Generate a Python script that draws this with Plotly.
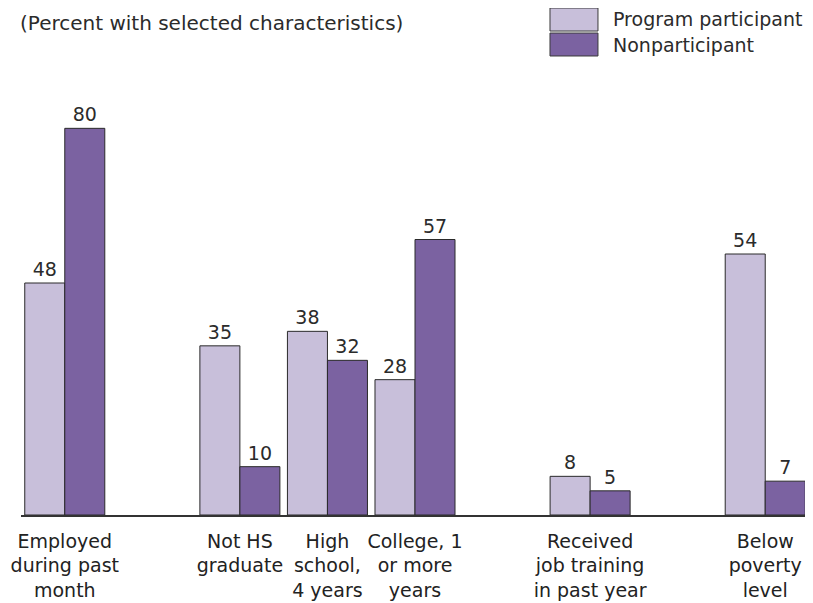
import plotly.graph_objects as go

categories = [
    "Employed<br>during past<br>month",
    " ",
    "Not HS<br>graduate",
    "High<br>school,<br>4 years",
    "College, 1<br>or more<br>years",
    "  ",
    "Received<br>job training<br>in past year",
    "   ",
    "Below<br>poverty<br>level",
]
participant = [48, None, 35, 38, 28, None, 8, None, 54]
nonparticipant = [80, None, 10, 32, 57, None, 5, None, 7]
series_names = ["Program participant", "Nonparticipant"]
colors = ["#c8bfda", "#7b62a1"]

FONT = "DejaVu Sans"
TXT = "#2b2b2b"
fig = go.Figure()
for name, vals, col in zip(series_names, [participant, nonparticipant], colors):
    fig.add_trace(go.Bar(
        x=categories, y=vals, name=name,
        marker=dict(color=col, line=dict(color="#2a2a2a", width=1)),
        text=[("" if v is None else str(v)) for v in vals],
        textposition="outside", cliponaxis=False,
        textfont=dict(family=FONT, size=19, color=TXT),
        showlegend=False,
    ))

# Manual legend (large swatches like the reference), built from series names/colours
legend_box_y = [(1.1126, 1.1655), (1.0552, 1.1080)]
legend_text_y = [1.1391, 1.0805]
for name, col, (y0, y1), ty in zip(series_names, colors, legend_box_y, legend_text_y):
    fig.add_shape(type="rect", xref="paper", yref="paper",
                  x0=0.6713, x1=0.7322, y0=y0, y1=y1,
                  fillcolor=col, line=dict(color="#3a3a3a", width=1))
    fig.add_annotation(xref="paper", yref="paper", x=0.749, y=ty,
                       xanchor="left", yanchor="middle", showarrow=False,
                       text=name, font=dict(family=FONT, size=19, color=TXT))

# page body has an 8px margin, so the figure is drawn 8px smaller
fig.update_layout(
    width=805, height=595,
    paper_bgcolor="white", plot_bgcolor="white",
    margin=dict(l=13, r=4, t=72, b=88, autoexpand=False),
    barmode="group", bargap=0.086, bargroupgap=0,
    font=dict(family=FONT, size=19, color=TXT),
    title=dict(text="(Percent with selected characteristics)", x=12/805, xref="container",
               xanchor="left", y=1 - 15/595, yanchor="middle", yref="container",
               font=dict(family=FONT, size=20, color=TXT)),
    showlegend=False,
)
fig.update_xaxes(showline=True, linecolor="#333333", linewidth=1.5, ticks="",
                 tickfont=dict(family=FONT, size=19, color="#222222"),
                 ticklabelstandoff=8,
                 showgrid=False, tickangle=0)
fig.update_yaxes(range=[0, 90], visible=False, showgrid=False)

fig.write_html("out.html")
